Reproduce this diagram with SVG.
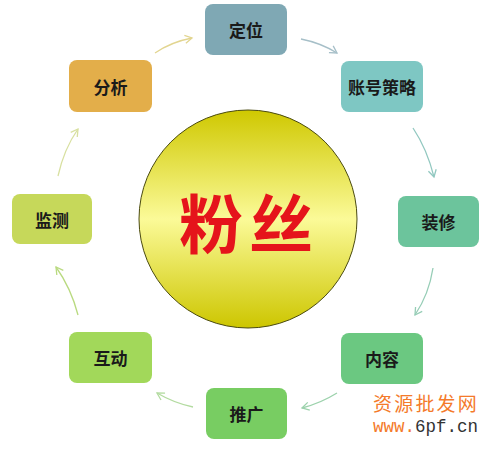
<svg xmlns="http://www.w3.org/2000/svg" width="486" height="450" viewBox="0 0 486 450">
<style>
.node rect{rx:8;ry:8}
.lbl{font-family:"Noto Sans CJK SC","Noto Sans",sans-serif;font-size:17px;font-weight:bold;fill:#1a1a1a;text-anchor:middle;dominant-baseline:central}
.conn path{fill:none;stroke-width:1.3}
.wm{font-family:"Noto Sans CJK SC",sans-serif;fill:#F47A2A}
</style>
<defs>
<linearGradient id="g" x1="0" y1="0" x2="0" y2="1">
<stop offset="0" stop-color="#CFC800"/>
<stop offset="0.5" stop-color="#FBFA98"/>
<stop offset="1" stop-color="#CDC600"/>
</linearGradient>
<marker id="m1" viewBox="-8 -5 10 10" refX="0" refY="0" markerWidth="10" markerHeight="10" markerUnits="userSpaceOnUse" orient="auto"><path d="M-7,-4 L0,0 L-7,4" fill="none" stroke="#E2D590" stroke-width="1.3"/></marker>
<marker id="m2" viewBox="-8 -5 10 10" refX="0" refY="0" markerWidth="10" markerHeight="10" markerUnits="userSpaceOnUse" orient="auto"><path d="M-7,-4 L0,0 L-7,4" fill="none" stroke="#A6BFC8" stroke-width="1.3"/></marker>
<marker id="m3" viewBox="-8 -5 10 10" refX="0" refY="0" markerWidth="10" markerHeight="10" markerUnits="userSpaceOnUse" orient="auto"><path d="M-7,-4 L0,0 L-7,4" fill="none" stroke="#92C8C0" stroke-width="1.3"/></marker>
<marker id="m4" viewBox="-8 -5 10 10" refX="0" refY="0" markerWidth="10" markerHeight="10" markerUnits="userSpaceOnUse" orient="auto"><path d="M-7,-4 L0,0 L-7,4" fill="none" stroke="#96CDB6" stroke-width="1.3"/></marker>
<marker id="m5" viewBox="-8 -5 10 10" refX="0" refY="0" markerWidth="10" markerHeight="10" markerUnits="userSpaceOnUse" orient="auto"><path d="M-7,-4 L0,0 L-7,4" fill="none" stroke="#9CD2AC" stroke-width="1.3"/></marker>
<marker id="m6" viewBox="-8 -5 10 10" refX="0" refY="0" markerWidth="10" markerHeight="10" markerUnits="userSpaceOnUse" orient="auto"><path d="M-7,-4 L0,0 L-7,4" fill="none" stroke="#B3DBA0" stroke-width="1.3"/></marker>
<marker id="m7" viewBox="-8 -5 10 10" refX="0" refY="0" markerWidth="10" markerHeight="10" markerUnits="userSpaceOnUse" orient="auto"><path d="M-7,-4 L0,0 L-7,4" fill="none" stroke="#B9DA80" stroke-width="1.3"/></marker>
<marker id="m8" viewBox="-8 -5 10 10" refX="0" refY="0" markerWidth="10" markerHeight="10" markerUnits="userSpaceOnUse" orient="auto"><path d="M-7,-4 L0,0 L-7,4" fill="none" stroke="#D8E0A0" stroke-width="1.3"/></marker>
</defs>
<rect width="486" height="450" fill="#FFFFFF"/>
<g id="connectors" class="conn">
<path d="M155,53 Q171,42 192,38" stroke="#E2D590" marker-end="url(#m1)"/>
<path d="M301,39 Q321,43 337,53" stroke="#A6BFC8" marker-end="url(#m2)"/>
<path d="M413,128 Q427,149 434,177" stroke="#92C8C0" marker-end="url(#m3)"/>
<path d="M433,268 Q429,294 415,315" stroke="#96CDB6" marker-end="url(#m4)"/>
<path d="M337,393 Q321,403 302,408" stroke="#9CD2AC" marker-end="url(#m5)"/>
<path d="M193,407 Q174,403 157,393" stroke="#B3DBA0" marker-end="url(#m6)"/>
<path d="M78,315 Q71,288 56,267" stroke="#B9DA80" marker-end="url(#m7)"/>
<path d="M58,176 Q64,149 78,129" stroke="#D8E0A0" marker-end="url(#m8)"/>
</g>
<g id="center">
<circle cx="248" cy="219" r="109" fill="url(#g)" stroke="#4A4A10" stroke-width="1"/>
<text x="249" y="248" font-family="'Noto Sans CJK SC',sans-serif" font-size="64" font-weight="bold" fill="#E5141B" text-anchor="middle" letter-spacing="6">粉丝</text>
</g>
<g id="n-dingwei" class="node"><rect x="205" y="4" width="82" height="51" fill="#7FA8B4"/><text class="lbl" x="246" y="29.5">定位</text></g>
<g id="n-zhanghao" class="node"><rect x="341" y="61" width="82" height="51" fill="#7EC7C3"/><text class="lbl" x="382" y="86.5">账号策略</text></g>
<g id="n-zhuangxiu" class="node"><rect x="398" y="196" width="81" height="51" fill="#6CC49C"/><text class="lbl" x="438.5" y="221.5">装修</text></g>
<g id="n-neirong" class="node"><rect x="341" y="333" width="82" height="51" fill="#6BC881"/><text class="lbl" x="382" y="358.5">内容</text></g>
<g id="n-tuiguang" class="node"><rect x="206" y="388" width="81" height="51" fill="#78CD62"/><text class="lbl" x="246.5" y="413.5">推广</text></g>
<g id="n-hudong" class="node"><rect x="69" y="332" width="83" height="51" fill="#A2D85A"/><text class="lbl" x="110.5" y="357.5">互动</text></g>
<g id="n-jiance" class="node"><rect x="12" y="194" width="80" height="50" fill="#C6D85A"/><text class="lbl" x="52" y="219">监测</text></g>
<g id="n-fenxi" class="node"><rect x="69" y="60" width="83" height="52" fill="#E3AE4A"/><text class="lbl" x="110.5" y="86">分析</text></g>
<g id="watermark">
<text class="wm" x="373" y="411" font-size="19" letter-spacing="2.2">资源批发网</text>
<text x="373" y="432" font-family="'Liberation Mono',monospace" font-size="17.5"><tspan fill="#F47A2A">www.</tspan><tspan fill="#333333">6pf.cn</tspan></text>
</g>
</svg>
